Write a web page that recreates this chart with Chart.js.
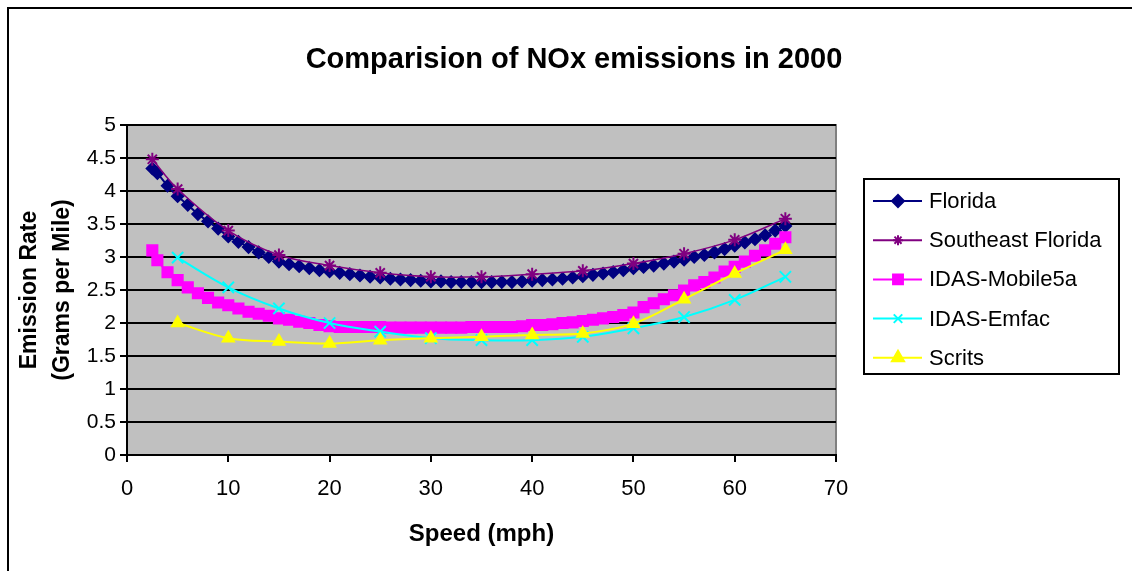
<!DOCTYPE html>
<html>
<head>
<meta charset="utf-8">
<title>Comparision of NOx emissions in 2000</title>
<script src="https://cdn.jsdelivr.net/npm/chart.js@4/dist/chart.umd.min.js"></script>
<style>
  html, body { margin: 0; padding: 0; background: #fff; }
  #wrap { width: 1132px; height: 571px; }
</style>
</head>
<body>
<div id="wrap"><canvas id="chart" width="1132" height="571"></canvas></div>
<script>
const chartTitle = 'Comparision of NOx emissions in 2000';
const xTitle = 'Speed (mph)';
const yTitle = ['Emission Rate', '(Grams per Mile)'];
const xTicks = [0, 10, 20, 30, 40, 50, 60, 70];
const yTicks = [0, 0.5, 1, 1.5, 2, 2.5, 3, 3.5, 4, 4.5, 5];

// speeds sampled every mph (Florida, IDAS-Mobile5a)
const speedFine = [2.5, 3, 4, 5, 6, 7, 8, 9, 10, 11, 12, 13, 14, 15, 16, 17, 18, 19, 20,
    21, 22, 23, 24, 25, 26, 27, 28, 29, 30, 31, 32, 33, 34, 35, 36, 37, 38, 39, 40,
    41, 42, 43, 44, 45, 46, 47, 48, 49, 50, 51, 52, 53, 54, 55, 56, 57, 58, 59, 60,
    61, 62, 63, 64, 65];
// speeds sampled every 5 mph
const speedSE = [2.5, 5, 10, 15, 20, 25, 30, 35, 40, 45, 50, 55, 60, 65];
const speedCoarse = [5, 10, 15, 20, 25, 30, 35, 40, 45, 50, 55, 60, 65];

const florida = [4.34, 4.27, 4.08, 3.92, 3.79, 3.65, 3.54, 3.43, 3.31, 3.23, 3.15, 3.07, 3.00, 2.93, 2.89, 2.86, 2.83, 2.80, 2.78,
    2.76, 2.74, 2.72, 2.70, 2.69, 2.67, 2.66, 2.65, 2.64, 2.63, 2.63, 2.62, 2.62, 2.62, 2.62, 2.62, 2.62, 2.62, 2.63, 2.64,
    2.65, 2.66, 2.67, 2.69, 2.71, 2.73, 2.75, 2.77, 2.80, 2.83, 2.85, 2.87, 2.90, 2.93, 2.96, 3.00, 3.03, 3.07, 3.12, 3.17,
    3.22, 3.27, 3.33, 3.40, 3.47];
const southeastFlorida = [4.48, 4.03, 3.40, 3.03, 2.87, 2.76, 2.70, 2.70, 2.74, 2.79, 2.90, 3.05, 3.26, 3.58];
const mobile5a = [3.10, 2.95, 2.77, 2.65, 2.54, 2.45, 2.38, 2.31, 2.27, 2.22, 2.17, 2.14, 2.11, 2.07, 2.05, 2.02, 2.00, 1.97, 1.95,
    1.94, 1.94, 1.94, 1.94, 1.94, 1.93, 1.93, 1.93, 1.93, 1.93, 1.93, 1.93, 1.93, 1.94, 1.94, 1.94, 1.94, 1.94, 1.95, 1.97,
    1.97, 1.98, 2.00, 2.01, 2.03, 2.05, 2.07, 2.09, 2.12, 2.16, 2.24, 2.30, 2.36, 2.42, 2.49, 2.57, 2.62, 2.69, 2.78, 2.85,
    2.93, 3.02, 3.10, 3.20, 3.30];
const emfac = [2.99, 2.54, 2.22, 2.00, 1.87, 1.77, 1.74, 1.74, 1.79, 1.92, 2.09, 2.35, 2.70];
const scrits = [2.00, 1.77, 1.72, 1.69, 1.74, 1.77, 1.79, 1.82, 1.84, 1.99, 2.36, 2.75, 3.11];

const FONT = '"Liberation Sans", Arial, sans-serif';

function pts(xs, ys) {
    return xs.map((x, i) => ({x: x, y: ys[i]}));
}

// grey plot area + outer frame
const backdrop = {
    id: 'backdrop',
    beforeDraw(chart) {
        const ctx = chart.ctx;
        const a = chart.chartArea;
        ctx.save();
        ctx.fillStyle = '#fff';
        ctx.fillRect(0, 0, chart.width, chart.height);
        ctx.strokeStyle = '#000';
        ctx.lineWidth = 2;
        ctx.beginPath();
        ctx.moveTo(8, chart.height + 5);
        ctx.lineTo(8, 8);
        ctx.lineTo(chart.width + 5, 8);
        ctx.stroke();
        ctx.fillStyle = '#c0c0c0';
        ctx.fillRect(a.left, a.top, a.right - a.left, a.bottom - a.top);
        ctx.strokeStyle = '#808080';
        ctx.strokeRect(a.left, a.top, a.right - a.left, a.bottom - a.top);
        ctx.restore();
    }
};

// title and boxed legend like the spreadsheet chart
const decorations = {
    id: 'decorations',
    afterDraw(chart) {
        const ctx = chart.ctx;
        ctx.save();
        ctx.fillStyle = '#000';
        ctx.font = 'bold 29px ' + FONT;
        ctx.textAlign = 'center';
        ctx.textBaseline = 'middle';
        ctx.fillText(chartTitle, 574, 60);

        // legend box
        ctx.fillStyle = '#fff';
        ctx.fillRect(864, 179, 255, 195);
        ctx.strokeStyle = '#000';
        ctx.lineWidth = 2;
        ctx.strokeRect(864, 179, 255, 195);

        const sets = chart.data.datasets;
        sets.forEach((ds, i) => {
            const y = 201 + i * 39.2;
            ctx.strokeStyle = ds.borderColor;
            ctx.lineWidth = 2;
            ctx.beginPath();
            ctx.moveTo(873, y);
            ctx.lineTo(922, y);
            ctx.stroke();
            ctx.fillStyle = ds.pointBackgroundColor;
            ctx.strokeStyle = ds.pointBorderColor;
            Chart.helpers.drawPoint(ctx, {
                pointStyle: ds.pointStyle,
                radius: ds.legendRadius,
                borderWidth: ds.pointBorderWidth,
                rotation: 0
            }, 898, y);
            ctx.fillStyle = '#000';
            ctx.font = '22px ' + FONT;
            ctx.textAlign = 'left';
            ctx.textBaseline = 'middle';
            ctx.fillText(ds.label, 929, y + 1);
        });
        ctx.restore();
    }
};

function series(label, xs, ys, color, style, radius, legendRadius, order, lineWidth, markerLine) {
    return {
        label: label,
        data: pts(xs, ys),
        borderColor: color,
        backgroundColor: color,
        borderWidth: lineWidth,
        pointStyle: style,
        pointRadius: radius,
        pointBackgroundColor: color,
        pointBorderColor: color,
        pointBorderWidth: markerLine,
        legendRadius: legendRadius,
        tension: 0.35,
        order: order
    };
}

new Chart(document.getElementById('chart'), {
    type: 'line',
    data: {
        datasets: [
            series('Florida', speedFine, florida, '#000080', 'rectRot', 6, 6, 5, 2, 1.5),
            series('Southeast Florida', speedSE, southeastFlorida, '#800080', 'star', 6.5, 5, 4, 1.5, 2),
            series('IDAS-Mobile5a', speedFine, mobile5a, '#ff00ff', 'rect', 7.5, 7, 3, 2, 1.5),
            series('IDAS-Emfac', speedCoarse, emfac, '#00ffff', 'crossRot', 8, 6, 2, 2, 2),
            series('Scrits', speedCoarse, scrits, '#ffff00', 'triangle', 7, 7, 1, 2, 1.5)
        ]
    },
    options: {
        responsive: false,
        animation: false,
        layout: {padding: {left: 14, top: 125, right: 296, bottom: 22}},
        plugins: {
            legend: {display: false},
            title: {display: false},
            tooltip: {enabled: false}
        },
        scales: {
            x: {
                type: 'linear',
                min: xTicks[0],
                max: xTicks[xTicks.length - 1],
                afterBuildTicks: (scale) => { scale.ticks = xTicks.map(v => ({value: v})); },
                afterFit: (scale) => { scale.height = 94; },
                ticks: {color: '#000', font: {family: FONT, size: 22}, padding: 14, maxRotation: 0,
                    callback: (v) => String(v)},
                grid: {drawOnChartArea: false, drawTicks: true, tickLength: 7, color: '#000', lineWidth: 2},
                border: {color: '#000', width: 2},
                title: {display: true, text: xTitle, color: '#000', padding: 0,
                    font: {family: FONT, size: 24, weight: 'bold'}}
            },
            y: {
                min: yTicks[0],
                max: yTicks[yTicks.length - 1],
                afterBuildTicks: (scale) => { scale.ticks = yTicks.map(v => ({value: v})); },
                afterFit: (scale) => { scale.width = 113; },
                ticks: {color: '#000', font: {family: FONT, size: 21}, padding: 4,
                    callback: (v) => String(v)},
                grid: {color: '#000', lineWidth: 2, tickLength: 7},
                border: {color: '#000', width: 2},
                title: {display: true, text: yTitle, color: '#000', padding: 0,
                    font: {family: FONT, size: 23, weight: 'bold', lineHeight: 1.4}}
            }
        }
    },
    plugins: [backdrop, decorations]
});
</script>
</body>
</html>
